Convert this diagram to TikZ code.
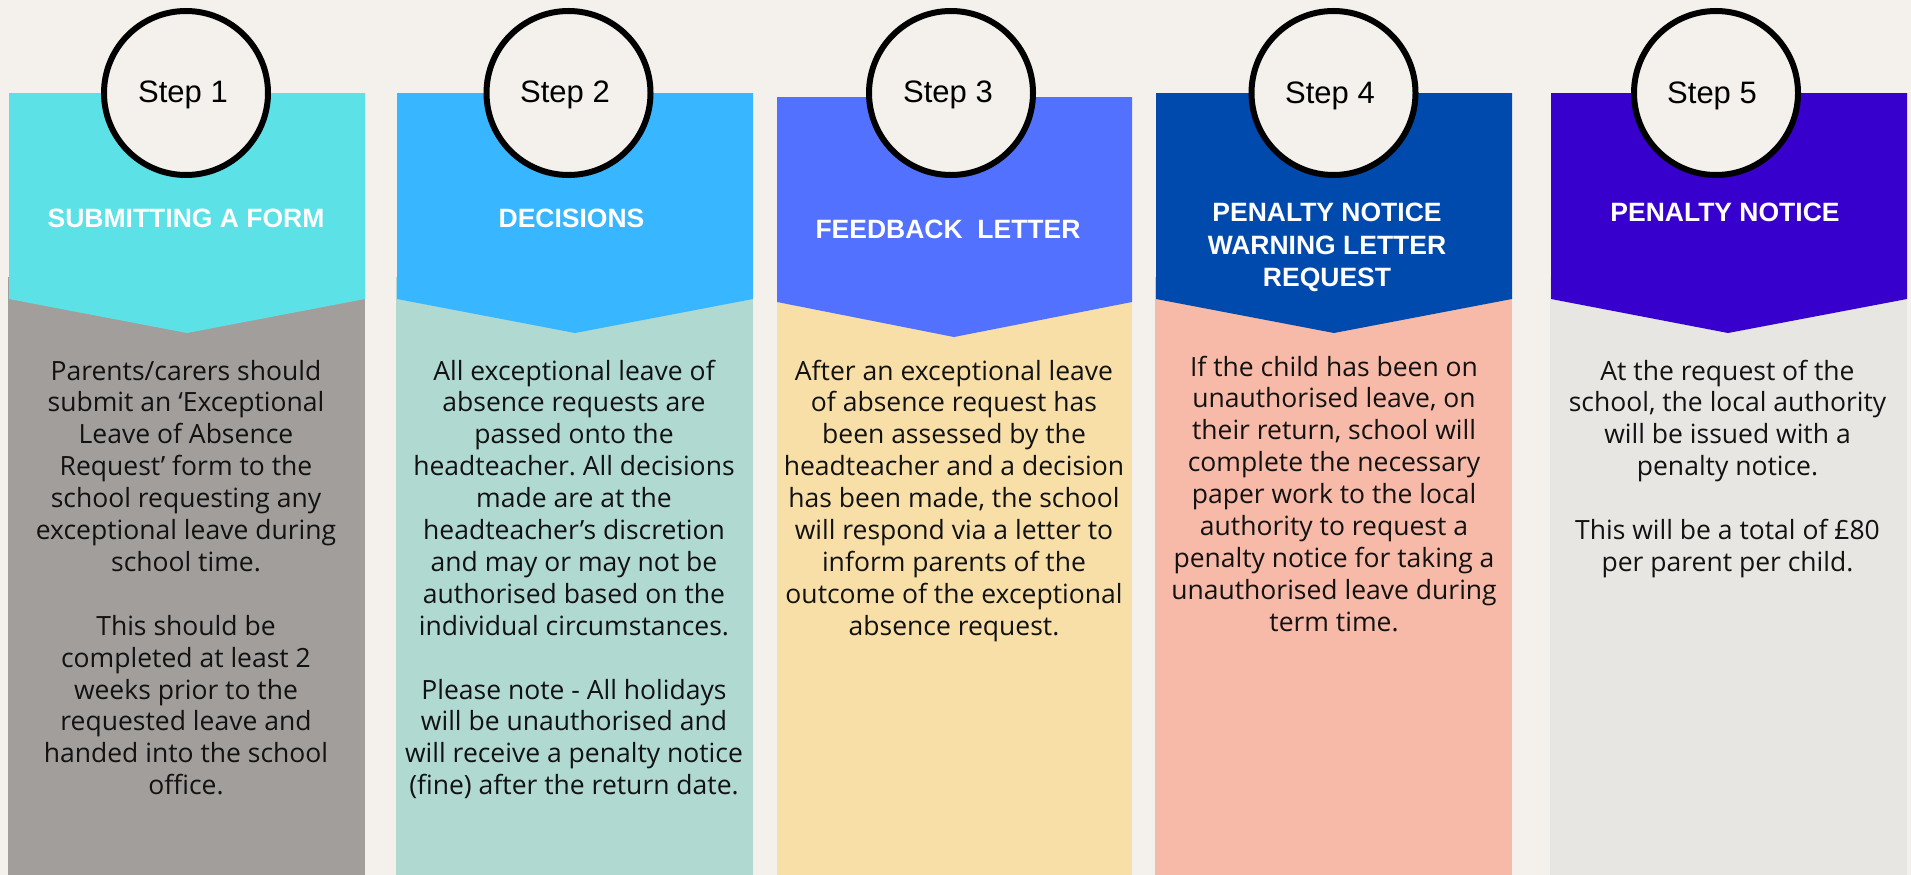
\documentclass[tikz,border=0pt]{standalone}
\usepackage{fontspec}
\setmainfont{Open Sans}
\newfontfamily\headfont{Liberation Sans}
\frenchspacing

\definecolor{paper}{HTML}{F4F1EC}
\definecolor{headA}{HTML}{5CE1E6}
\definecolor{bodyA}{HTML}{A19E9B}
\definecolor{headB}{HTML}{38B6FF}
\definecolor{bodyB}{HTML}{AFD9D1}
\definecolor{headC}{HTML}{5271FF}
\definecolor{bodyC}{HTML}{F8DFA8}
\definecolor{headD}{HTML}{004AAD}
\definecolor{bodyD}{HTML}{F8BAA8}
\definecolor{headE}{HTML}{3700CC}
\definecolor{bodyE}{HTML}{E7E6E2}

\begin{document}
% multi-line nodes are anchored at the baseline of their last line
\begin{tikzpicture}[x=1pt,y=-1pt,
  stepring/.style={circle,draw=black,line width=6pt,fill=paper,minimum size=164pt,inner sep=0pt},
  steplabel/.style={font=\headfont\fontsize{31}{36}\selectfont,text=black,anchor=base,inner sep=0pt},
  headtitle/.style={font=\headfont\bfseries\fontsize{26.5}{32.5}\selectfont,text=white,align=center,anchor=base,inner sep=0pt},
  bodytext/.style={font=\fontsize{26.5}{31.9}\selectfont,text=black!93,align=center,anchor=base,inner sep=0pt}]

% page background
\fill[paper] (0,0) rectangle (1911,875);
\useasboundingbox (0,0) rectangle (1911,875);

% column bodies
\fill[bodyA] (8,277) rectangle (365,875);
\fill[bodyB] (396,277) rectangle (753,875);
\fill[bodyC] (777,280) rectangle (1132,875);
\fill[bodyD] (1155,277) rectangle (1512,875);
\fill[bodyE] (1550,277) rectangle (1907,875);

% chevron headers
\fill[headA] (9,93) -- (365,93) -- (365,299) -- (187,333) -- (9,299) -- cycle;
\fill[headB] (397,93) -- (753,93) -- (753,299) -- (575,333) -- (397,299) -- cycle;
\fill[headC] (777,97) -- (1132,97) -- (1132,302) -- (954,337) -- (777,302) -- cycle;
\fill[headD] (1156,93) -- (1512,93) -- (1512,299) -- (1334,333) -- (1156,299) -- cycle;
\fill[headE] (1551,93) -- (1907,93) -- (1907,299) -- (1728,333) -- (1551,299) -- cycle;

% step rings
\node[stepring] (ring1) at (186,93) {};
\node[stepring] (ring2) at (568.5,93) {};
\node[stepring] (ring3) at (951,93) {};
\node[stepring] (ring4) at (1333.5,93) {};
\node[stepring] (ring5) at (1716,93) {};

\node[steplabel] (step1) at (183,102) {Step 1};
\node[steplabel] (step2) at (565,102) {Step 2};
\node[steplabel] (step3) at (948,102) {Step 3};
\node[steplabel] (step4) at (1330,103) {Step 4};
\node[steplabel] (step5) at (1712,103) {Step 5};

% header titles
\node[headtitle] (title1) at (186,227.5) {SUBMITTING A FORM};
\node[headtitle] (title2) at (571.5,227.5) {DECISIONS};
\node[headtitle] (title3) at (948,238.5) {FEEDBACK\ \ LETTER};
\node[headtitle] (title4) at (1327,286.5) {PENALTY NOTICE\\WARNING LETTER\\REQUEST};
\node[headtitle] (title5) at (1725,221.5) {PENALTY NOTICE};

% body texts
\node[bodytext] (text1) at (186,794.7) {Parents/carers should\\submit an ‘Exceptional\\Leave of Absence\\Request’ form to the\\school requesting any\\exceptional leave during\\school time.\\[31.9pt]This should be\\completed at least 2\\weeks prior to the\\requested leave and\\handed into the school\\office.};
\node[bodytext] (text2) at (574,794.7) {All exceptional leave of\\absence requests are\\passed onto the\\headteacher. All decisions\\made are at the\\headteacher’s discretion\\and may or may not be\\authorised based on the\\individual circumstances.\\[31.9pt]Please note - All holidays\\will be unauthorised and\\will receive a penalty notice\\(fine) after the return date.};
\node[bodytext] (text3) at (954,635.2) {After an exceptional leave\\of absence request has\\been assessed by the\\headteacher and a decision\\has been made, the school\\will respond via a letter to\\inform parents of the\\outcome of the exceptional\\absence request.};
\node[bodytext] (text4) at (1334,631.2) {If the child has been on\\unauthorised leave, on\\their return, school will\\complete the necessary\\paper work to the local\\authority to request a\\penalty notice for taking a\\unauthorised leave during\\term time.};
\node[bodytext] (text5) at (1727.5,571.4) {At the request of the\\school, the local authority\\will be issued with a\\penalty notice.\\[31.9pt]This will be a total of £80\\per parent per child.};
\end{tikzpicture}
\end{document}
